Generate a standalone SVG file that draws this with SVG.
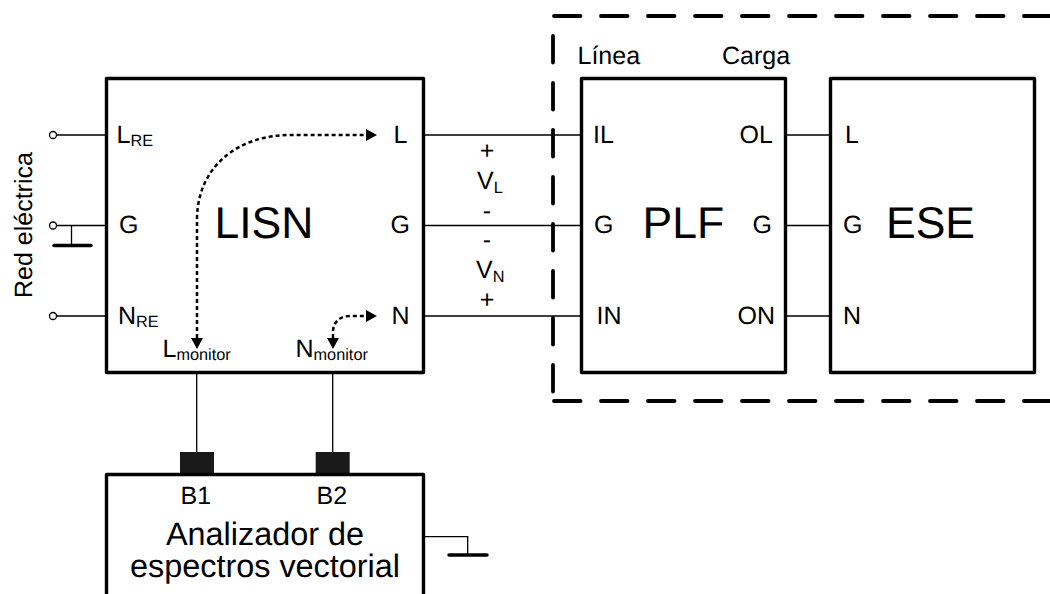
<svg xmlns="http://www.w3.org/2000/svg" width="1050" height="594" viewBox="0 0 1050 594">
<style>
text{font-family:"Liberation Sans",Arial,sans-serif;font-size:25px;fill:#000;text-rendering:geometricPrecision}
.big{font-size:44.5px}
.mid{font-size:32.4px;text-anchor:middle}
.sub{font-size:16.3px}
.ctr{text-anchor:middle}
.box{fill:#fff;stroke:#000;stroke-width:3.4;stroke-linejoin:round}
.wire{fill:none;stroke:#000;stroke-width:1.3}
.gnd{fill:none;stroke:#000;stroke-width:3.4;stroke-linecap:round}
.dash{fill:none;stroke:#000;stroke-width:3.8;stroke-dasharray:26.5 20.5;stroke-linecap:round}
.dot{fill:none;stroke:#000;stroke-width:2.5;stroke-dasharray:4 3}
.term{fill:#fff;stroke:#000;stroke-width:1.3}
.port{fill:#1a1a1a}
</style>
<defs>
<marker id="head" markerUnits="userSpaceOnUse" markerWidth="12" markerHeight="14" refX="0" refY="7" orient="auto-start-reverse"><path d="M0 1L11 7L0 13Z" fill="#000"/></marker>
</defs>
<rect width="1050" height="594" fill="#fff"/>
<g id="enclosure">
<path class="dash" d="M554 16H1050"/>
<path class="dash" d="M553 36V395"/>
<path class="dash" d="M554 401H1050"/>
</g>
<g id="connectors">
<path class="wire" d="M57 135H106M57 225.5H106M57 316H106"/>
<path class="wire" d="M424 135H581M424 225.5H581M424 316H581"/>
<path class="wire" d="M786 135H830M786 225.5H830M786 316H830"/>
<path class="wire" d="M196.7 373V452M332.7 373V452"/>
<path class="wire" d="M424 536.7H467.7V555"/>
<path class="wire" d="M71.5 225.5V245"/>
<circle class="term" cx="53" cy="135" r="3.5"/>
<circle class="term" cx="53" cy="225.5" r="3.5"/>
<circle class="term" cx="53" cy="316" r="3.5"/>
<path class="gnd" d="M54 245.5H91"/>
<path class="gnd" d="M449 555H487"/>
</g>
<g id="lisn">
<rect class="box" x="106.5" y="78.5" width="317" height="294"/>
<text x="116.5" y="142.7">L<tspan class="sub" dy="3.3">RE</tspan></text>
<text x="119" y="232.5">G</text>
<text x="118" y="324">N<tspan class="sub" dy="3.3">RE</tspan></text>
<text x="162.5" y="357">L<tspan class="sub" dy="3.3">monitor</tspan></text>
<text x="295.5" y="357">N<tspan class="sub" dy="3.3">monitor</tspan></text>
<text x="393.5" y="142.7">L</text>
<text x="390.5" y="232.5">G</text>
<text x="391.5" y="323.5">N</text>
<text class="big" x="214.5" y="238.3">LISN</text>
</g>
<g id="dotted">
<path class="dot" marker-start="url(#head)" marker-end="url(#head)" d="M197 338V220C197 165 240 135 290 135H366"/>
<path class="dot" marker-start="url(#head)" marker-end="url(#head)" d="M333 338V332C333 322 340 316 350 316H366"/>
</g>
<g id="voltages">
<text class="ctr" x="487" y="158.5">+</text>
<text x="477" y="189.3">V<tspan class="sub" dy="3.3">L</tspan></text>
<text class="ctr" x="487" y="219">-</text>
<text class="ctr" x="487" y="248">-</text>
<text x="476" y="278">V<tspan class="sub" dy="3.5">N</tspan></text>
<text class="ctr" x="487" y="307.5">+</text>
</g>
<g id="plf">
<rect class="box" x="581.5" y="78.5" width="204" height="294"/>
<text x="577.5" y="64">Línea</text>
<text x="722" y="64">Carga</text>
<text x="593" y="142.7">IL</text>
<text x="739.5" y="142.7">OL</text>
<text x="594" y="233">G</text>
<text x="752.5" y="233">G</text>
<text x="596.5" y="323.5">IN</text>
<text x="737.5" y="323.5">ON</text>
<text class="big" x="642.5" y="238.3">PLF</text>
</g>
<g id="ese">
<rect class="box" x="830.5" y="78.5" width="204" height="294"/>
<text x="845" y="142.7">L</text>
<text x="843" y="233">G</text>
<text x="843" y="323.5">N</text>
<text class="big" x="886" y="238.3">ESE</text>
</g>
<g id="analizador">
<rect class="port" x="180" y="452" width="34" height="22"/>
<rect class="port" x="315.7" y="452" width="34" height="22"/>
<rect class="box" x="106.5" y="474.5" width="317" height="140"/>
<text x="180.5" y="504">B1</text>
<text x="316.5" y="504">B2</text>
<text class="mid" x="265" y="545">Analizador de</text>
<text class="mid" x="265" y="576.7">espectros vectorial</text>
</g>
<g id="red">
<text x="32" y="298" transform="rotate(-90 32 298)">Red eléctrica</text>
</g>
</svg>
